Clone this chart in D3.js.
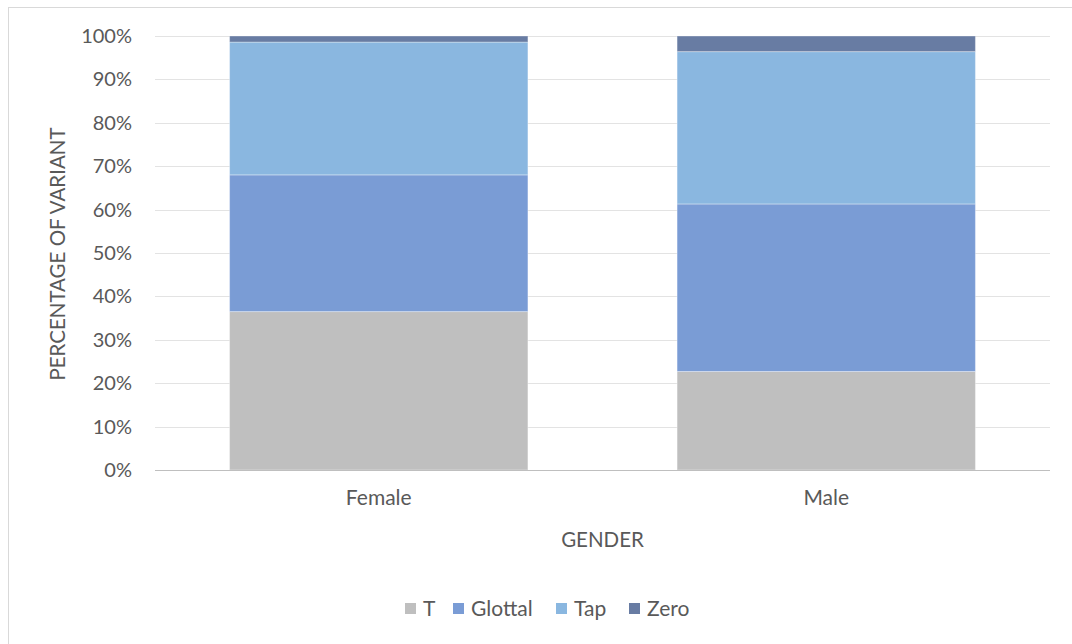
<!DOCTYPE html>
<html>
<head>
<meta charset="utf-8">
<script src="https://cdn.jsdelivr.net/npm/d3@7"></script>
<style>
  html, body { margin: 0; padding: 0; background: #fff; }
  svg { display: block; font-family: Lato, "Open Sans", sans-serif; }
</style>
</head>
<body>
<svg id="chart" width="1072" height="644"></svg>
<script>
// Share of each variant by gender (percent)
const categories = ["Female", "Male"];
const seriesNames = ["T", "Glottal", "Tap", "Zero"];
const tValues = [36.5, 22.7];
const glottalValues = [31.5, 38.6];
const tapValues = [30.6, 35.1];
const zeroValues = [1.4, 3.6];
const yTicks = [0, 10, 20, 30, 40, 50, 60, 70, 80, 90, 100];
const colors = ["#bfbfbf", "#7a9cd5", "#8ab7e0", "#687ca3"];

const FONT = "Lato, \"Open Sans\", sans-serif";
const TEXT = "#595959";

const rows = categories.map((c, i) => ({
  category: c,
  T: tValues[i],
  Glottal: glottalValues[i],
  Tap: tapValues[i],
  Zero: zeroValues[i]
}));

const svg = d3.select("#chart");

// chart frame
svg.append("rect")
  .attr("x", 8.5).attr("y", 7.5)
  .attr("width", 1100).attr("height", 700)
  .attr("fill", "#fff")
  .attr("stroke", "#d9d9d9").attr("stroke-width", 1);

const plot = { left: 155, right: 1050, top: 36, bottom: 470 };

const x = d3.scaleBand()
  .domain(categories)
  .range([plot.left, plot.right])
  .paddingInner(1 / 3)
  .paddingOuter(1 / 6);

const y = d3.scaleLinear()
  .domain([0, 100])
  .range([plot.bottom, plot.top]);

// gridlines
svg.append("g")
  .selectAll("line")
  .data(yTicks.filter(t => t > 0))
  .join("line")
  .attr("x1", plot.left).attr("x2", plot.right)
  .attr("y1", d => Math.round(y(d)) + 0.5)
  .attr("y2", d => Math.round(y(d)) + 0.5)
  .attr("stroke", "#e3e3e3").attr("stroke-width", 1);

// y axis labels
const yAxis = d3.axisLeft(y)
  .tickValues(yTicks)
  .tickFormat(d => d + "%")
  .tickSize(0)
  .tickPadding(0);

svg.append("g")
  .attr("transform", `translate(${plot.left - 23},0)`)
  .call(yAxis)
  .call(g => g.select(".domain").remove())
  .call(g => g.selectAll("text")
    .attr("fill", TEXT)
    .attr("font-size", 20)
    .attr("font-family", FONT));

// stacked bars
const stack = d3.stack().keys(seriesNames);
const layers = stack(rows);

svg.append("g")
  .selectAll("g")
  .data(layers)
  .join("g")
  .attr("fill", (d, i) => colors[i])
  .selectAll("rect")
  .data(d => d)
  .join("rect")
  .attr("x", d => x(d.data.category))
  .attr("width", x.bandwidth())
  .attr("y", d => y(d[1]))
  .attr("height", d => y(d[0]) - y(d[1]))
  .attr("stroke", "rgba(255,255,255,0.35)")
  .attr("stroke-width", 1);

// baseline
svg.append("line")
  .attr("x1", plot.left).attr("x2", plot.right)
  .attr("y1", plot.bottom + 0.5).attr("y2", plot.bottom + 0.5)
  .attr("stroke", "#bfbfbf").attr("stroke-width", 1);

// x axis labels
const xAxis = d3.axisBottom(x).tickSize(0).tickPadding(0);
svg.append("g")
  .attr("transform", `translate(0,${plot.bottom + 20})`)
  .call(xAxis)
  .call(g => g.select(".domain").remove())
  .call(g => g.selectAll("text")
    .attr("fill", TEXT)
    .attr("font-size", 21)
    .attr("font-family", FONT));

// axis titles
svg.append("text")
  .attr("x", (plot.left + plot.right) / 2)
  .attr("y", 547)
  .attr("text-anchor", "middle")
  .attr("fill", TEXT)
  .attr("font-size", 20.5)
  .text("GENDER");

svg.append("text")
  .attr("transform", `translate(65,${(plot.top + plot.bottom) / 2 + 1}) rotate(-90)`)
  .attr("text-anchor", "middle")
  .attr("fill", TEXT)
  .attr("font-size", 20.5)
  .text("PERCENTAGE OF VARIANT");

// legend
const legendX = [405, 453, 556, 629];
const items = svg.append("g")
  .attr("transform", "translate(0,608.5)")
  .selectAll("g")
  .data(seriesNames)
  .join("g")
  .attr("transform", (d, i) => `translate(${legendX[i]},0)`);
items.append("rect")
  .attr("x", 0).attr("y", -5.5)
  .attr("width", 11).attr("height", 11)
  .attr("fill", (d, i) => colors[i]);
items.append("text")
  .attr("x", 18).attr("y", 0)
  .attr("dy", "0.36em")
  .attr("fill", TEXT)
  .attr("font-size", 21)
  .text(d => d);
</script>
</body>
</html>
